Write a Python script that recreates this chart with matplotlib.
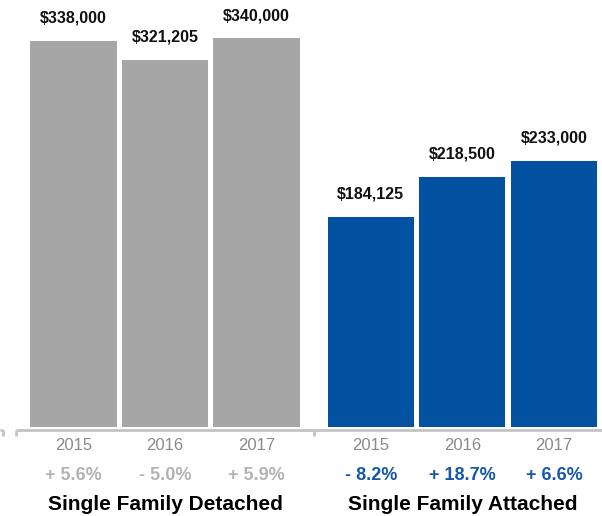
import matplotlib
matplotlib.use("Agg")
import matplotlib.pyplot as plt

plt.rcParams['font.family'] = ['Liberation Sans', 'DejaVu Sans']

# Median sales price by property type
groups = ["Single Family Detached", "Single Family Attached"]
years = ["2015", "2016", "2017"]
detached = [338000, 321205, 340000]
attached = [184125, 218500, 233000]
detached_change = ["+ 5.6%", "- 5.0%", "+ 5.9%"]
attached_change = ["- 8.2%", "+ 18.7%", "+ 6.6%"]

gray = "#a6a6a6"
blue = "#0352a2"
gray_pct = "#b3b3b3"
blue_pct = "#1558a8"
year_color = "#8a8a8a"
axis_color = "#c3c3c3"

W, H = 602, 516
fig = plt.figure(figsize=(W / 100, H / 100), dpi=100)
ax = fig.add_axes([0, 0, 1, 1])
ax.set_axis_off()

# Scale: one bar slot = 91.5 px, one dollar unit = 1/875 px
px_per_unit = 91.5
usd_per_px = 875.0
x0_px = 73.5          # centre of the first bar
base_px = 427         # baseline from top
ax.set_xlim(-x0_px / px_per_unit, (W - x0_px) / px_per_unit)
ax.set_ylim(-(H - base_px) * usd_per_px, base_px * usd_per_px)

group_gap = 3.25
width = 0.94
series = [(detached, gray, detached_change, gray_pct),
          (attached, blue, attached_change, blue_pct)]

for g, (vals, col, chg, pcol) in enumerate(series):
    xs = [g * group_gap + i for i in range(len(vals))]
    ax.bar(xs, vals, width=width, color=col, edgecolor="none")
    for x, v, yr, c in zip(xs, vals, years, chg):
        ax.annotate(f"${v:,.0f}", (x, v), xytext=(0, 16.5), textcoords="offset points",
                    ha="center", va="center", fontsize=11.5, fontweight="bold",
                    color="#111111")
        ax.annotate(yr, (x, 0), xytext=(0, -13.5), textcoords="offset points",
                    ha="center", va="center", fontsize=12, color=year_color)
        ax.annotate(c, (x, 0), xytext=(0, -35), textcoords="offset points",
                    ha="center", va="center", fontsize=13, fontweight="bold",
                    color=pcol)
    ax.annotate(groups[g], (g * group_gap + 1, 0), xytext=(0, -56),
                textcoords="offset points", ha="center", va="center",
                fontsize=15, fontweight="bold", color="#000000")

# Category axis with group dividers
axis_y = -2.5 * usd_per_px
tick_len = 6 * usd_per_px
bounds = [-0.625, -0.625 + group_gap]
xmin, xmax = ax.get_xlim()
stub = xmin + 3 / px_per_unit
ax.plot([bounds[0], xmax], [axis_y, axis_y], color=axis_color, lw=2,
        solid_capstyle="butt")
ax.plot([xmin, stub], [axis_y, axis_y], color=axis_color, lw=2,
        solid_capstyle="butt")
for b in bounds + [stub]:
    ax.plot([b, b], [axis_y, axis_y - tick_len], color=axis_color, lw=2,
            solid_capstyle="butt")

fig.savefig("out.png", dpi=100)
